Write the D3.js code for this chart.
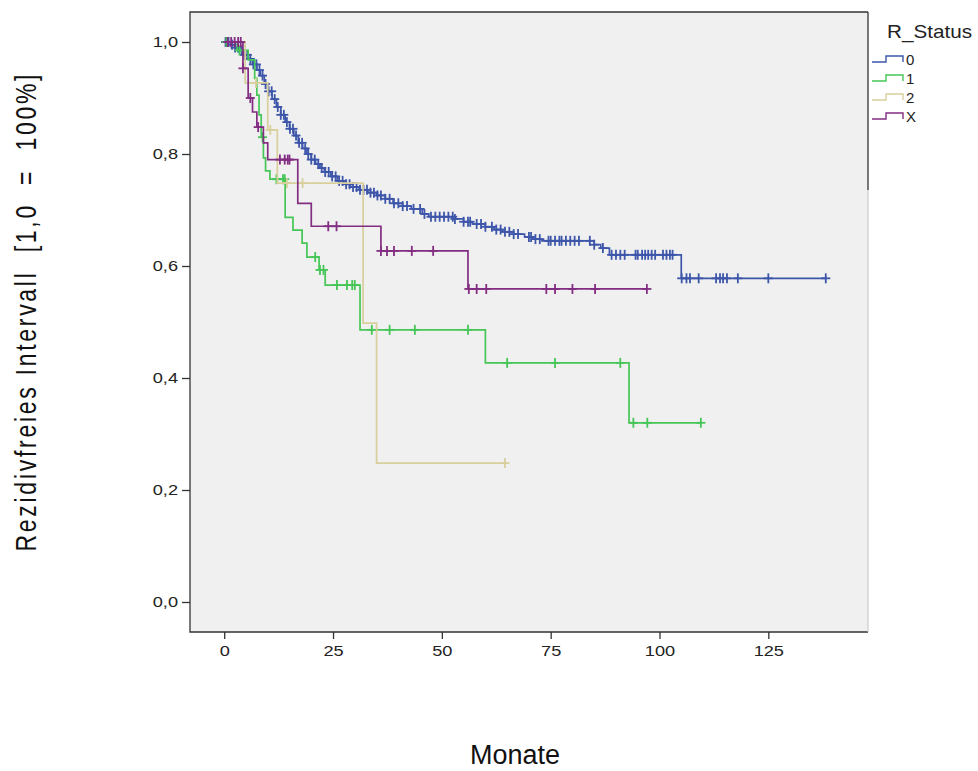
<!DOCTYPE html>
<html><head><meta charset="utf-8">
<script src="https://cdn.jsdelivr.net/npm/d3@7"></script>
<style>body{margin:0;background:#fff}svg{display:block}text{font-family:"Liberation Sans",Arial,sans-serif}</style>
</head><body>
<svg id="c" width="978" height="771"></svg>
<script>
const groups = ["0","1","2","X"];
const colors = ["#3d56aa","#45c656","#d8cf9c","#822d81"];
const xTicks = [0,25,50,75,100,125];
const yTicks = [0,0.2,0.4,0.6,0.8,1.0];

// group 0: step times and survival after step
const t0 = [0,1.5,2.5,3.5,4.5,5.5,6.5,7.5,8.3,9.2,10,11,12,13,14,15,16,17,18,19,20,21,22,23,24.5,26,27.5,29,31,33,35,37,38.8,41,43,45.5,47,53,55,57,60,62,64,66.5,69,71,73,85,86.5,88.5,105];
const s0 = [1.0,0.995,0.99,0.985,0.977,0.97,0.96,0.95,0.94,0.925,0.912,0.898,0.884,0.87,0.857,0.845,0.833,0.82,0.81,0.8,0.79,0.782,0.775,0.768,0.76,0.752,0.746,0.741,0.736,0.731,0.726,0.72,0.712,0.707,0.702,0.693,0.688,0.684,0.679,0.675,0.67,0.665,0.661,0.657,0.652,0.648,0.645,0.638,0.632,0.62,0.578];
const c0 = [0.3,1,1.8,2.5,3.2,4,4.6,5.3,6,6.7,7.4,8.1,8.8,9.5,10.2,10.9,11.6,12.3,13,13.7,14.4,15.1,15.8,16.5,17.2,17.9,18.6,19.3,20,20.8,21.6,22.4,23.2,24,24.8,25.6,26.4,27.2,28,28.8,29.6,30.4,31.2,32,32.8,33.6,34.4,35.2,36,37,38,39,40,41,42,43.5,45,46,47.5,48.5,49.5,50.5,51.5,52.5,53,55,56,56.5,58,59,60,61.5,62.5,63.5,64.5,65.5,66.5,67.5,70,70.5,71.5,72.5,74.5,75,76,77,77.5,78.5,79.5,80.5,81.5,84,85,87,89,90,91,92,94.5,95,96,96.7,97.4,98.2,99,100.8,101.6,102.4,103,105.1,106.2,107,109,113,113.9,114.6,115.5,118,125,138.2];

// group 1
const t1 = [0,3,5.5,7,7.5,8,8.5,9,9.5,10.5,14,15.8,17.9,19,21.8,23.2,31.2,60,93];
const s1 = [1.0,0.985,0.968,0.935,0.905,0.87,0.83,0.793,0.77,0.755,0.687,0.664,0.641,0.616,0.593,0.566,0.486,0.427,0.32];
const c1 = [0.5,3.5,8.8,12,13.5,13.9,20.9,22,22.8,25.9,28.2,29.4,30,33.9,38,43.8,56,65,76,91,94,97.2,109.5];

// group 2
const t2 = [0,4.8,10,12.2,31.9,35];
const s2 = [1.0,0.927,0.843,0.748,0.498,0.248];
const c2 = [7.3,10.6,14.4,18,64.5];

// group X
const t3 = [0,4.3,5.5,6.5,7.5,9,10,16.9,20,36,56];
const s3 = [1.0,0.953,0.9,0.875,0.848,0.82,0.79,0.712,0.671,0.627,0.559];
const c3 = [0.8,1.6,2.4,3.2,3.8,4.3,6,7.8,12.8,13.9,14.6,15,23.9,25.8,36,37.4,39,43.1,48,56.2,58,60.2,74,76,80,85.2,97.1];

const series = [
  {t:t0,s:s0,c:c0},{t:t1,s:s1,c:c1},{t:t2,s:s2,c:c2},{t:t3,s:s3,c:c3}
];

const svg = d3.select("#c");
const L=190,R=868,T=12,B=632;
const x = d3.scaleLinear().domain([-7.86,147.9]).range([L,R]);
const y = d3.scaleLinear().domain([-0.0536,1.0536]).range([B,T]);

svg.append("rect").attr("x",L).attr("y",T).attr("width",R-L).attr("height",B-T).attr("fill","#f0f0f0");

function survAt(d,t){let v=d.s[0];for(let i=0;i<d.t.length;i++){if(d.t[i]<=t)v=d.s[i];}return v;}

const line = d3.line().x(p=>x(p[0])).y(p=>y(p[1])).curve(d3.curveStepAfter);
series.forEach((d,gi)=>{
  const pts = d.t.map((t,i)=>[t,d.s[i]]);
  const last = d3.max(d.c);
  pts.push([last,d.s[d.s.length-1]]);
  const g = svg.append("g");
  g.append("path").attr("d",line(pts)).attr("fill","none").attr("stroke",colors[gi]).attr("stroke-width",1.7);
  d.c.forEach(ct=>{
    const cx=x(ct), cy=y(survAt(d,ct));
    g.append("line").attr("x1",cx).attr("x2",cx).attr("y1",cy-5).attr("y2",cy+5).attr("stroke",colors[gi]).attr("stroke-width",1.8);
    g.append("line").attr("x1",cx-4.5).attr("x2",cx+4.5).attr("y1",cy).attr("y2",cy).attr("stroke",colors[gi]).attr("stroke-width",1.8);
  });
});

// frame
svg.append("path").attr("d",`M${R},${T}H${L}V${B}H${R}`).attr("fill","none").attr("stroke","#333").attr("stroke-width",1.3);
svg.append("line").attr("x1",R).attr("x2",R).attr("y1",T).attr("y2",190).attr("stroke","#333").attr("stroke-width",1.3);
svg.append("line").attr("x1",R).attr("x2",R).attr("y1",190).attr("y2",B).attr("stroke","#c4c4c4").attr("stroke-width",1);

// axes
const sx = 1.3;
const ya = svg.append("g").attr("transform",`translate(${L},0)`)
  .call(d3.axisLeft(y).tickValues(yTicks).tickSize(8).tickFormat(v=>d3.format(".1f")(v).replace(".",",")));
const xa = svg.append("g").attr("transform",`translate(0,${B})`)
  .call(d3.axisBottom(x).tickValues(xTicks).tickSize(7).tickFormat(d3.format("d")));
[ya,xa].forEach(a=>{a.select(".domain").remove();a.selectAll("line").attr("stroke","#333").attr("stroke-width",1.3);
  a.selectAll("text").attr("fill","#222").style("font-size","14px");});
ya.selectAll("text").attr("x",-12/sx).attr("transform",`scale(${sx},1)`);
xa.selectAll("text").attr("y",14).attr("transform",`scale(${sx},1)`);

// labels
svg.append("text").attr("x",515).attr("y",764).attr("text-anchor","middle").style("font-size","27px").attr("fill","#111").text("Monate");
svg.append("text").attr("transform","translate(36,313) scale(1.3,1) rotate(-90)").attr("text-anchor","middle")
  .style("font-size","23px").attr("fill","#111").attr("xml:space","preserve")
  .attr("textLength",477).attr("lengthAdjust","spacing")
  .text("Rezidivfreies Intervall  [1,0  =  100%]");

// legend
svg.append("text").attr("transform","translate(887,38) scale(1.15,1)").style("font-size","18px").attr("fill","#222").text("R_Status");
groups.forEach((g,i)=>{
  const cy = 60 + i*19;
  svg.append("path").attr("d",`M872,${cy+2}H886V${cy-4}H903V${cy+2}`).attr("fill","none").attr("stroke",colors[i]).attr("stroke-width",1.4);
  svg.append("text").attr("x",906).attr("y",cy+5).style("font-size","15px").attr("fill","#222").text(g);
});
</script>
</body></html>
